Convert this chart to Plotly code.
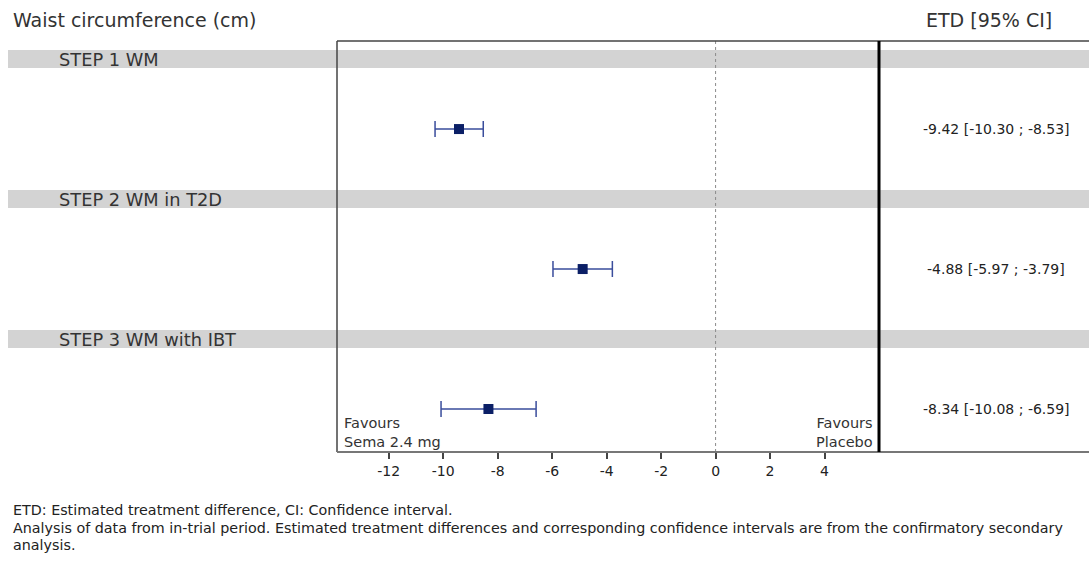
import plotly.graph_objects as go

# Forest plot: semaglutide 2.4 mg vs placebo, change in waist circumference
studies = ["STEP 1 WM", "STEP 2 WM in T2D", "STEP 3 WM with IBT"]
etd = [-9.42, -4.88, -8.34]
ci_low = [-10.30, -5.97, -10.08]
ci_high = [-8.53, -3.79, -6.59]
tick_vals = [-12, -10, -8, -6, -4, -2, 0, 2, 4]
tick_labels = ["-12", "-10", "-8", "-6", "-4", "-2", "0", "2", "4"]

W, H = 1089, 563
FONT = "DejaVu Sans, Verdana, sans-serif"
TEXT_COL = "#333333"

# plot area in paper coordinates
X0, X1 = 337 / W, 879 / W
Y0, Y1 = (H - 452) / H, (H - 41) / H

rows = list(range(len(studies)))

fig = go.Figure()
fig.add_trace(go.Scatter(
    x=etd,
    y=rows,
    mode="markers",
    marker=dict(symbol="square", size=10, color="#0b1f66"),
    error_x=dict(
        type="data",
        symmetric=False,
        array=[h - e for h, e in zip(ci_high, etd)],
        arrayminus=[e - l for e, l in zip(etd, ci_low)],
        color="#3a4d9c",
        thickness=1.5,
        width=8,
    ),
    hoverinfo="skip",
    showlegend=False,
))

shapes = []
annotations = []

# grey study header bands
for i, name in enumerate(studies):
    shapes.append(dict(type="rect", xref="paper", yref="y",
                       x0=8 / W, x1=1, y0=i - 0.5 - 0.064, y1=i - 0.5 + 0.064,
                       fillcolor="#d3d3d3", line=dict(width=0), layer="below"))
    annotations.append(dict(text=name, xref="paper", yref="y",
                            x=57 / W, y=i - 0.5, xanchor="left", yanchor="middle",
                            showarrow=False, font=dict(family=FONT, size=17.8, color=TEXT_COL)))
    annotations.append(dict(text=f"{etd[i]:.2f} [{ci_low[i]:.2f} ; {ci_high[i]:.2f}]",
                            xref="paper", yref="y", x=996 / W, y=i,
                            xanchor="center", yanchor="middle", showarrow=False,
                            font=dict(family=FONT, size=14, color="#222222")))

# reference line at zero
shapes.append(dict(type="line", xref="x", yref="paper", x0=0, x1=0, y0=Y0, y1=Y1,
                   line=dict(color="#8a8a8a", width=1, dash="dot"), layer="below"))
# frame: left, top, bottom, and the heavy divider before the estimate column
shapes.append(dict(type="line", xref="paper", yref="paper", x0=X0, x1=X0, y0=Y0, y1=Y1,
                   line=dict(color="#444444", width=1.5)))
shapes.append(dict(type="line", xref="paper", yref="paper", x0=X0, x1=1, y0=Y1, y1=Y1,
                   line=dict(color="#444444", width=1.5)))
shapes.append(dict(type="line", xref="paper", yref="paper", x0=X0, x1=1, y0=Y0, y1=Y0,
                   line=dict(color="#777777", width=2)))
shapes.append(dict(type="line", xref="paper", yref="paper", x0=X1, x1=X1, y0=Y0, y1=Y1,
                   line=dict(color="#000000", width=3)))

# headers
annotations.append(dict(text="Waist circumference (cm)", xref="paper", yref="paper",
                        x=11 / W, y=(H - 20) / H, xanchor="left", yanchor="middle",
                        showarrow=False, font=dict(family=FONT, size=19, color=TEXT_COL)))
annotations.append(dict(text="ETD [95% CI]", xref="paper", yref="paper",
                        x=989 / W, y=(H - 20) / H, xanchor="center", yanchor="middle",
                        showarrow=False, font=dict(family=FONT, size=19, color=TEXT_COL)))

# favours labels
annotations.append(dict(text="Favours<br>Sema 2.4 mg", xref="paper", yref="paper",
                        x=342 / W, y=(H - 452) / H, xanchor="left", yanchor="bottom",
                        align="left", showarrow=False,
                        font=dict(family=FONT, size=14.5, color=TEXT_COL)))
annotations.append(dict(text="Favours<br>Placebo", xref="paper", yref="paper",
                        x=875 / W, y=(H - 452) / H, xanchor="right", yanchor="bottom",
                        align="right", showarrow=False,
                        font=dict(family=FONT, size=14.5, color=TEXT_COL)))

# footnotes
foot = [
    ("ETD: Estimated treatment difference, CI: Confidence interval.", 510),
    ("Analysis of data from in-trial period. Estimated treatment differences and corresponding "
     "confidence intervals are from the confirmatory secondary", 528),
    ("analysis.", 545),
]
for txt, ypx in foot:
    annotations.append(dict(text=txt, xref="paper", yref="paper", x=11 / W, y=(H - ypx) / H,
                            xanchor="left", yanchor="middle", showarrow=False,
                            font=dict(family=FONT, size=14.3, color="#222222")))

fig.update_layout(
    width=W, height=H,
    margin=dict(l=0, r=0, t=0, b=0),
    paper_bgcolor="white", plot_bgcolor="white",
    shapes=shapes, annotations=annotations,
    xaxis=dict(domain=[X0, X1], range=[-13.9, 6.0],
               tickvals=tick_vals, ticktext=tick_labels,
               ticks="outside", ticklen=6, tickwidth=1.5, tickcolor="#444444",
               showgrid=False, zeroline=False, showline=False,
               tickfont=dict(family=FONT, size=14, color="#222222")),
    yaxis=dict(domain=[Y0, Y1], range=[2.307, -0.629], visible=False,
               showgrid=False, zeroline=False),
)

fig.write_html("out.html")
